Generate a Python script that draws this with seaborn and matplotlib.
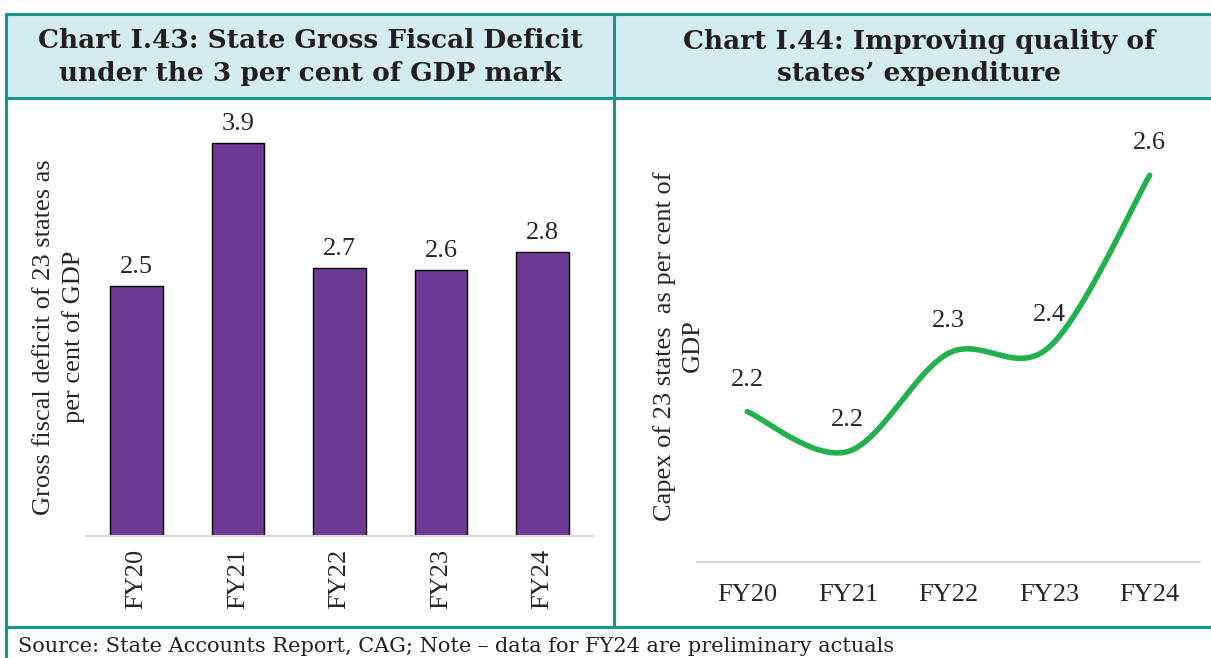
import numpy as np
import matplotlib
matplotlib.use('Agg')
import matplotlib.pyplot as plt
import seaborn as sns
from matplotlib.patches import Rectangle
from matplotlib.lines import Line2D

# data
years = ['FY20', 'FY21', 'FY22', 'FY23', 'FY24']
deficit = [2.48, 3.9, 2.66, 2.64, 2.82]
capex = [2.245, 2.18, 2.34, 2.35, 2.63]

title_left = 'Chart I.43: State Gross Fiscal Deficit\nunder the 3 per cent of GDP mark'
title_right = 'Chart I.44: Improving quality of\nstates\u2019 expenditure'
ylabel_left = 'Gross fiscal deficit of 23 states as\nper cent of GDP'
ylabel_right = 'Capex of 23 states  as per cent of\nGDP'
source = 'Source: State Accounts Report, CAG; Note \u2013 data for FY24 are preliminary actuals'

purple = '#6E3A93'
green = '#22B14C'
teal = '#17978C'
head_bg = '#D3ECEF'
fs = 19

sns.set_style('white')
plt.rcParams['font.family'] = ['Liberation Serif', 'DejaVu Serif']

W, H = 1211, 658
fig = plt.figure(figsize=(W / 100, H / 100), dpi=100)


def fx(px):
    return px / W


def fy(py):
    return 1 - py / H


# header band and frame
fig.add_artist(Rectangle((fx(6), fy(98)), fx(1220 - 6), fy(14) - fy(98),
                         facecolor=head_bg, edgecolor='none', transform=fig.transFigure))
for y in (14, 98, 627):
    fig.add_artist(Line2D([fx(6), 1], [fy(y), fy(y)], color=teal, lw=2.2, transform=fig.transFigure))
fig.add_artist(Line2D([fx(6), fx(6)], [fy(14), 0], color=teal, lw=2.2, transform=fig.transFigure))
fig.add_artist(Line2D([fx(614), fx(614)], [fy(14), fy(627)], color=teal, lw=2.2, transform=fig.transFigure))

fig.text(fx(310), fy(57), title_left, ha='center', va='center', fontsize=19,
         fontweight='bold', family='DejaVu Serif', color='#231F20', linespacing=1.35)
fig.text(fx(919), fy(57), title_right, ha='center', va='center', fontsize=19,
         fontweight='bold', family='DejaVu Serif', color='#231F20', linespacing=1.35)
fig.text(fx(18), fy(647), source, ha='left', va='center', fontsize=15,
         family='DejaVu Serif', color='#231F20')

# left panel: bars
ax1 = fig.add_axes([fx(86), fy(536), fx(593 - 86), (536 - 123) / H])
sns.barplot(x=years, y=deficit, color=purple, saturation=1, width=0.52,
            edgecolor='black', linewidth=1.0, ax=ax1)
ax1.set_xlim(-0.5, 4.5)
ax1.set_ylim(0, 4.1)
ax1.bar_label(ax1.containers[0], fmt='%.1f', padding=6, fontsize=fs)
ax1.set_yticks([])
ax1.tick_params(axis='x', length=0, labelsize=fs, labelrotation=90, pad=9)
for s in ('top', 'right', 'left'):
    ax1.spines[s].set_visible(False)
ax1.spines['bottom'].set_color('#D9D9D9')
ax1.spines['bottom'].set_linewidth(1.5)
ax1.set_xlabel('')
fig.text(fx(59), fy(337), ylabel_left, rotation=90, ha='center', va='center',
         fontsize=fs, linespacing=1.35)


# right panel: smoothed line (Catmull-Rom through the points, like Excel)
def smooth(xs, ys, n=40):
    p = np.column_stack([xs, ys]).astype(float)
    p = np.vstack([p[0], p, p[-1]])
    out = []
    t = np.linspace(0, 1, n)[:, None]
    for i in range(1, len(p) - 2):
        p0, p1, p2, p3 = p[i - 1], p[i], p[i + 1], p[i + 2]
        seg = 0.5 * (2 * p1 + (-p0 + p2) * t + (2 * p0 - 5 * p1 + 4 * p2 - p3) * t ** 2
                     + (-p0 + 3 * p1 - 3 * p2 + p3) * t ** 3)
        out.append(seg)
    out = np.vstack(out)
    return out[:, 0], out[:, 1]


ax2 = fig.add_axes([fx(697), fy(562), fx(1200 - 697), (562 - 120) / H])
xpos = np.arange(len(years))
sx, sy = smooth(xpos, capex)
sns.lineplot(x=sx, y=sy, sort=False, estimator=None, color=green, lw=4,
             solid_capstyle='round', ax=ax2)
for i, v in enumerate(capex):
    ax2.annotate(f'{v:.1f}', (xpos[i], v), xytext=(0, 23), textcoords='offset points',
                 ha='center', va='center', fontsize=fs)
ax2.set_xlim(-0.5, 4.5)
ax2.set_ylim(2.0, 2.72)
ax2.set_xticks(xpos)
ax2.set_xticklabels(years)
ax2.set_yticks([])
ax2.tick_params(axis='x', length=0, labelsize=fs, pad=16)
for s in ('top', 'right', 'left'):
    ax2.spines[s].set_visible(False)
ax2.spines['bottom'].set_color('#D9D9D9')
ax2.spines['bottom'].set_linewidth(1.5)
fig.text(fx(678), fy(346), ylabel_right, rotation=90, ha='center', va='center',
         fontsize=fs, linespacing=1.35)

fig.savefig('out.png', dpi=100)
